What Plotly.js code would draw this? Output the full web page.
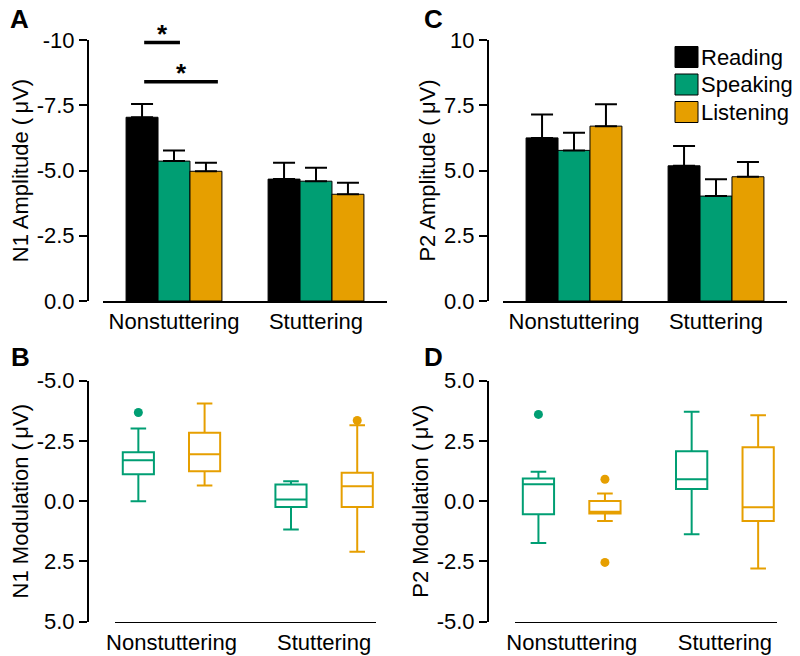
<!DOCTYPE html>
<html>
<head>
<meta charset="utf-8">
<script src="https://cdn.plot.ly/plotly-3.0.1.min.js"></script>
<style>html,body{margin:0;padding:0;background:#fff}#chart{width:800px;height:656px}</style>
</head>
<body>
<div id="chart"></div>
<script>
// ---------- data ----------
const groups = ['Nonstuttering', 'Stuttering'];
const conditions = ['Reading', 'Speaking', 'Listening'];
const condColors = ['#000000', '#009E73', '#E69F00'];

// Panel A: N1 amplitude (mean, SEM)
const n1Reading = [-7.04, -4.67];
const n1Speaking = [-5.36, -4.59];
const n1Listening = [-4.97, -4.09];
const n1ReadingErr = [0.51, 0.63];
const n1SpeakingErr = [0.41, 0.52];
const n1ListeningErr = [0.33, 0.44];

// Panel C: P2 amplitude (mean, SEM)
const p2Reading = [6.25, 5.18];
const p2Speaking = [5.77, 4.02];
const p2Listening = [6.70, 4.76];
const p2ReadingErr = [0.90, 0.76];
const p2SpeakingErr = [0.68, 0.64];
const p2ListeningErr = [0.84, 0.57];

// Panel B: N1 modulation box stats (Speaking, Listening)
const n1ModSpeakLow = [-3.02, -0.83];
const n1ModSpeakQ1 = [-2.03, -0.69];
const n1ModSpeakMed = [-1.70, -0.07];
const n1ModSpeakQ3 = [-1.12, 0.24];
const n1ModSpeakHigh = [0.00, 1.17];
const n1ModListenLow = [-4.05, -3.15];
const n1ModListenQ1 = [-2.84, -1.18];
const n1ModListenMed = [-1.95, -0.62];
const n1ModListenQ3 = [-1.24, 0.24];
const n1ModListenHigh = [-0.65, 2.10];
const n1ModSpeakOutGroup = ['Nonstuttering'];
const n1ModSpeakOut = [-3.68];
const n1ModListenOutGroup = ['Stuttering'];
const n1ModListenOut = [-3.35];

// Panel D: P2 modulation box stats (Speaking, Listening)
const p2ModSpeakLow = [-1.73, -1.37];
const p2ModSpeakQ1 = [-0.54, 0.51];
const p2ModSpeakMed = [0.70, 0.91];
const p2ModSpeakQ3 = [0.94, 2.07];
const p2ModSpeakHigh = [1.22, 3.71];
const p2ModListenLow = [-0.82, -2.79];
const p2ModListenQ1 = [-0.51, -0.82];
const p2ModListenMed = [-0.44, -0.25];
const p2ModListenQ3 = [0.01, 2.24];
const p2ModListenHigh = [0.32, 3.57];
const p2ModSpeakOutGroup = ['Nonstuttering'];
const p2ModSpeakOut = [3.60];
const p2ModListenOutGroup = ['Nonstuttering', 'Nonstuttering'];
const p2ModListenOut = [0.91, -2.54];

// Tick labels
const n1AmpTicks = [-10, -7.5, -5, -2.5, 0];
const n1AmpTickText = ['-10', '-7.5', '-5.0', '-2.5', '0.0'];
const p2AmpTicks = [10, 7.5, 5, 2.5, 0];
const p2AmpTickText = ['10', '7.5', '5.0', '2.5', '0.0'];
const n1ModTicks = [-5, -2.5, 0, 2.5, 5];
const n1ModTickText = ['-5.0', '-2.5', '0.0', '2.5', '5.0'];
const p2ModTicks = [5, 2.5, 0, -2.5, -5];
const p2ModTickText = ['5.0', '2.5', '0.0', '-2.5', '-5.0'];

// ---------- helpers ----------
const W = 800, H = 656;
const px = v => v / W;
const py = v => 1 - v / H;
const FONT = 'Liberation Sans, Arial, sans-serif';
const zeros = a => a.map(() => 0);

const traces = [];

function barTraces(vals, errs, xa, ya, negative) {
  vals.forEach((v, k) => {
    traces.push({
      type: 'bar', x: groups, y: v, name: conditions[k],
      xaxis: xa, yaxis: ya, showlegend: false,
      marker: {color: condColors[k], line: {color: '#000', width: 1}},
      error_y: {
        type: 'data', symmetric: false,
        array: negative ? zeros(errs[k]) : errs[k],
        arrayminus: negative ? errs[k] : zeros(errs[k]),
        color: '#000', thickness: 2, width: 11
      },
      hoverinfo: 'skip'
    });
  });
}
barTraces([n1Reading, n1Speaking, n1Listening], [n1ReadingErr, n1SpeakingErr, n1ListeningErr], 'x', 'y', true);
barTraces([p2Reading, p2Speaking, p2Listening], [p2ReadingErr, p2SpeakingErr, p2ListeningErr], 'x2', 'y2', false);

const BOX_OFFSET = 0.217, BOX_WIDTH = 0.204;
function boxTrace(k, low, q1, med, q3, high, xa, ya) {
  const off = (k === 1 ? -1 : 1) * BOX_OFFSET;
  traces.push({
    type: 'box', x: groups.map((g, i) => i + off),
    lowerfence: low, q1: q1, median: med, q3: q3, upperfence: high,
    width: BOX_WIDTH, whiskerwidth: 0.5, boxpoints: false,
    line: {color: condColors[k], width: 2}, fillcolor: 'rgba(255,255,255,0)',
    xaxis: xa, yaxis: ya, showlegend: false, hoverinfo: 'skip', name: conditions[k]
  });
}
function outlierTrace(k, grp, vals, xa, ya) {
  const off = (k === 1 ? -1 : 1) * BOX_OFFSET;
  traces.push({
    type: 'scatter', mode: 'markers',
    x: grp.map(g => groups.indexOf(g) + off), y: vals,
    marker: {color: condColors[k], size: 9},
    xaxis: xa, yaxis: ya, showlegend: false, hoverinfo: 'skip', cliponaxis: false
  });
}
boxTrace(1, n1ModSpeakLow, n1ModSpeakQ1, n1ModSpeakMed, n1ModSpeakQ3, n1ModSpeakHigh, 'x3', 'y3');
boxTrace(2, n1ModListenLow, n1ModListenQ1, n1ModListenMed, n1ModListenQ3, n1ModListenHigh, 'x3', 'y3');
outlierTrace(1, n1ModSpeakOutGroup, n1ModSpeakOut, 'x3', 'y3');
outlierTrace(2, n1ModListenOutGroup, n1ModListenOut, 'x3', 'y3');
boxTrace(1, p2ModSpeakLow, p2ModSpeakQ1, p2ModSpeakMed, p2ModSpeakQ3, p2ModSpeakHigh, 'x4', 'y4');
boxTrace(2, p2ModListenLow, p2ModListenQ1, p2ModListenMed, p2ModListenQ3, p2ModListenHigh, 'x4', 'y4');
outlierTrace(1, p2ModSpeakOutGroup, p2ModSpeakOut, 'x4', 'y4');
outlierTrace(2, p2ModListenOutGroup, p2ModListenOut, 'x4', 'y4');

// ---------- axes ----------
const tickFont = {family: FONT, size: 22, color: '#000'};
const titleFont = {family: FONT, size: 22, color: '#000'};
function yAxis(domain, pos, range, tv, tt, title) {
  return {
    domain: domain, anchor: 'free', position: pos, range: range,
    tickmode: 'array', tickvals: tv, ticktext: tt, tickfont: tickFont,
    ticks: 'outside', ticklen: 8, tickwidth: 2, tickcolor: '#000',
    showline: true, linewidth: 2, linecolor: '#000',
    showgrid: false, zeroline: false, automargin: false,
    title: {text: title, font: titleFont, standoff: 1}
  };
}
function xAxisCat(domain, anchor) {
  return {
    domain: domain, anchor: anchor, type: 'category', range: [-0.5, 1.5],
    tickfont: tickFont, ticks: '', showline: true, linewidth: 2, linecolor: '#000',
    showgrid: false, zeroline: false, automargin: false
  };
}
function xAxisNum(domain, anchor) {
  return {
    domain: domain, anchor: anchor, range: [-0.37, 1.34],
    tickmode: 'array', tickvals: groups.map((g, i) => i), ticktext: groups,
    tickfont: tickFont, ticks: '', showline: true, linewidth: 1.5, linecolor: '#000',
    showgrid: false, zeroline: false, automargin: false
  };
}

const topDom = [py(301), py(40)];
const botDom = [py(621.7), py(380.7)];

const layout = {
  width: W, height: H,
  margin: {l: 0, r: 0, t: 0, b: 0},
  paper_bgcolor: '#fff', plot_bgcolor: 'rgba(0,0,0,0)',
  showlegend: false,
  barmode: 'group', bargap: 0.325, bargroupgap: 0,
  boxmode: 'overlay',
  font: {family: FONT, color: '#000'},
  xaxis: xAxisCat([px(103), px(387)], 'y'),
  yaxis: yAxis(topDom, px(88), [0, -10], n1AmpTicks, n1AmpTickText, 'N1 Amplitude (\u2009\u03bcV)'),
  xaxis2: xAxisCat([px(503), px(787)], 'y2'),
  yaxis2: yAxis(topDom, px(488), [0, 10], p2AmpTicks, p2AmpTickText, 'P2 Amplitude (\u2009\u03bcV)'),
  xaxis3: xAxisNum([px(115), px(376)], 'y3'),
  yaxis3: yAxis(botDom, px(88), [5, -5], n1ModTicks, n1ModTickText, 'N1 Modulation (\u2009\u03bcV)'),
  xaxis4: xAxisNum([px(515), px(777)], 'y4'),
  yaxis4: yAxis(botDom, px(488), [-5, 5], p2ModTicks, p2ModTickText, 'P2 Modulation (\u2009\u03bcV)'),
  shapes: [],
  annotations: []
};

// significance brackets in panel A
const sigLines = [
  {x0: -0.21, x1: 0.042, y: -9.90},
  {x0: -0.21, x1: 0.309, y: -8.40}
];
sigLines.forEach(s => {
  layout.shapes.push({type: 'line', xref: 'x', yref: 'y', x0: s.x0, x1: s.x1, y0: s.y, y1: s.y,
    line: {color: '#000', width: 3.5}});
  layout.annotations.push({xref: 'x', yref: 'y', x: (s.x0 + s.x1) / 2, y: s.y, yanchor: 'bottom',
    text: '<b>*</b>', showarrow: false, font: {family: FONT, size: 26, color: '#000'}, yshift: -8});
});

// panel letters
[['A', 19, 19], ['B', 20, 357], ['C', 433, 19], ['D', 433, 357]].forEach(([t, x, y]) => {
  layout.annotations.push({xref: 'paper', yref: 'paper', x: px(x), y: py(y),
    xanchor: 'center', yanchor: 'middle', text: '<b>' + t + '</b>', showarrow: false,
    font: {family: FONT, size: 26, color: '#000'}});
});

// legend (panel C)
const legRows = [57, 84.5, 112];
conditions.forEach((c, k) => {
  layout.shapes.push({type: 'rect', xref: 'paper', yref: 'paper',
    x0: px(675), x1: px(698), y0: py(legRows[k] + 10.5), y1: py(legRows[k] - 10.5),
    fillcolor: condColors[k], line: {color: '#000', width: 1}});
  layout.annotations.push({xref: 'paper', yref: 'paper', x: px(699), y: py(legRows[k]),
    xanchor: 'left', yanchor: 'middle', text: c, showarrow: false,
    font: {family: FONT, size: 22, color: '#000'}});
});

Plotly.newPlot('chart', traces, layout, {staticPlot: true, displayModeBar: false});
</script>
</body>
</html>
